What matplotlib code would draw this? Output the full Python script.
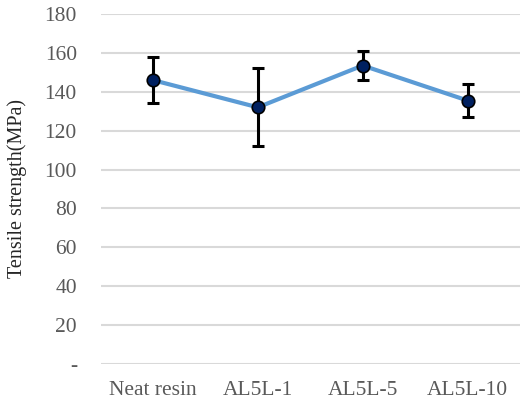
import matplotlib
matplotlib.use("Agg")
import matplotlib.pyplot as plt
from matplotlib.ticker import FuncFormatter

categories = ["Neat resin", "AL5L-1", "AL5L-5", "AL5L-10"]
strength = [146, 132, 153.5, 135.5]
err = [12, 20, 7.5, 8.5]
yticks = [0, 20, 40, 60, 80, 100, 120, 140, 160, 180]

plt.rcParams['font.family'] = ['Liberation Serif', 'DejaVu Serif']

fig = plt.figure(figsize=(5.2, 4.0), dpi=100)
ax = fig.add_axes([100.5/520, 36/400, 419.5/520, 350/400])

x = list(range(len(categories)))
ax.plot(x, strength, color='#5B9BD5', lw=3, zorder=3, solid_capstyle='round')
ax.errorbar(x, strength, yerr=err, fmt='none', ecolor='black', elinewidth=2.2,
            capsize=4.5, capthick=2.2, zorder=4)
ax.plot(x, strength, 'o', ms=9, mfc='#002060', mec='black', mew=1.2, zorder=5)

ax.set_xlim(-0.5, 3.5)
ax.set_ylim(0, 180)
ax.set_yticks(yticks)
ax.yaxis.set_major_formatter(FuncFormatter(lambda v, p: '-' if v == 0 else f"{int(v)}"))
ax.set_xticks(x)
ax.set_xticklabels(categories)
ax.grid(axis='y', color='#D9D9D9', lw=1.5)
ax.set_axisbelow(True)
for s in ax.spines.values():
    s.set_visible(False)
ax.tick_params(axis='both', length=0, labelsize=15.5, colors='#595959')
ax.tick_params(axis='y', pad=17)
ax.tick_params(axis='x', pad=12)
fig.text(17/520, 1 - 188/400, "Tensile strength(MPa)", rotation=90, ha='center', va='center',
         fontsize=14.5, color='#262626')

fig.savefig("out.png", dpi=100)
